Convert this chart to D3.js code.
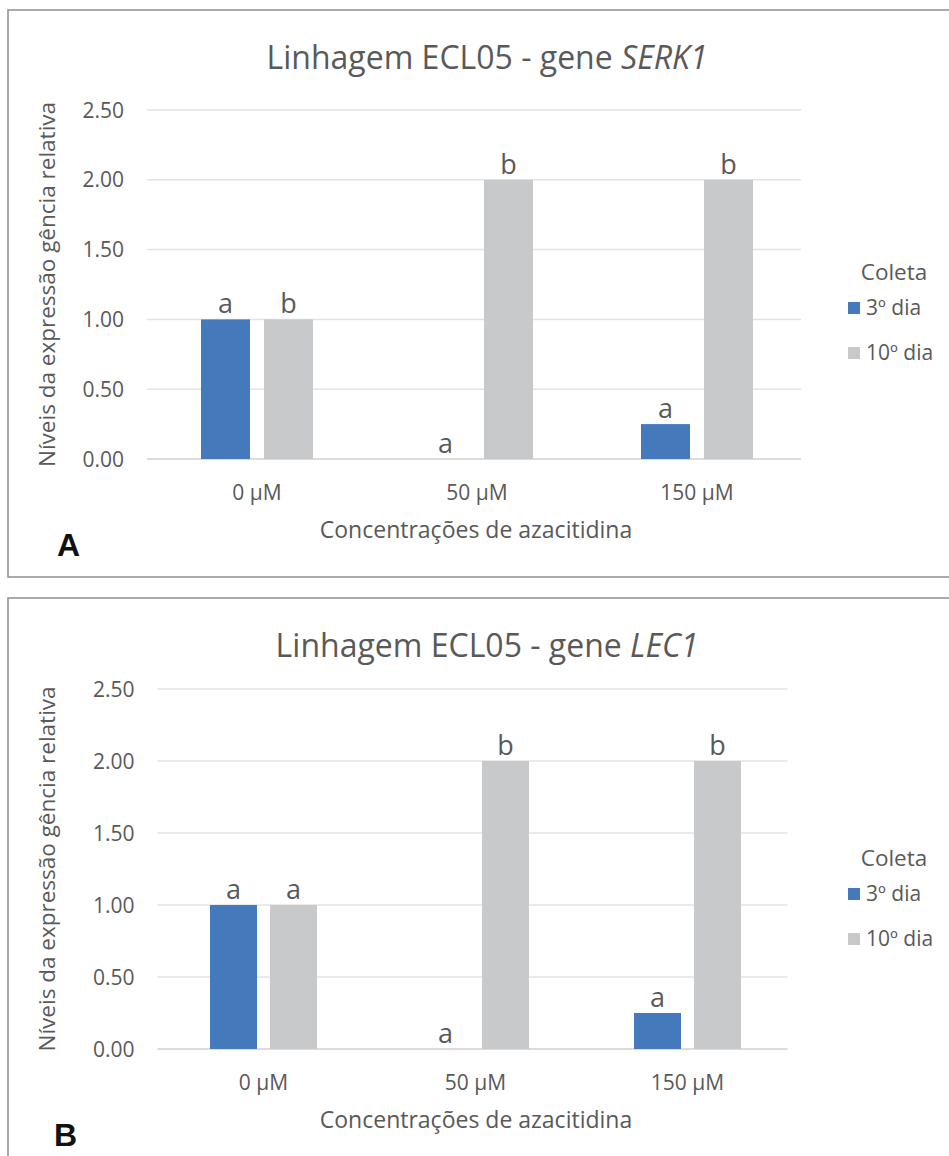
<!DOCTYPE html>
<html>
<head>
<meta charset="utf-8">
<script src="https://cdn.jsdelivr.net/npm/d3@7"></script>
<style>
body { margin: 0; background: #fff; }
svg text { font-family: "Open Sans", "Noto Sans", sans-serif; fill: #595959; }
</style>
</head>
<body>
<div id="chart"></div>
<script>
// categorias e séries
var concentracoes = ["0 μM", "50 μM", "150 μM"];
var coletas = ["3º dia", "10º dia"];
var cores = ["#4479bb", "#c8c9cb"];
var yTicks = [0, 0.5, 1, 1.5, 2, 2.5];

// painel A - SERK1
var serk1_dia3 = [1.00, 0.00, 0.25];
var serk1_dia10 = [1.00, 2.00, 2.00];
var serk1_letras3 = ["a", "a", "a"];
var serk1_letras10 = ["b", "b", "b"];

// painel B - LEC1
var lec1_dia3 = [1.00, 0.00, 0.25];
var lec1_dia10 = [1.00, 2.00, 2.00];
var lec1_letras3 = ["a", "a", "a"];
var lec1_letras10 = ["a", "b", "b"];

var svg = d3.select("#chart").append("svg")
    .attr("width", 949)
    .attr("height", 1156);

function drawPanel(p) {
  var g = svg.append("g");

  // moldura
  g.append("rect")
    .attr("x", 8).attr("y", p.top)
    .attr("width", 960).attr("height", p.frameH)
    .attr("fill", "none")
    .attr("stroke", "#8f8f8f")
    .attr("stroke-width", 1.5);

  var x0 = d3.scaleBand().domain(concentracoes).range([p.left, p.right]);
  var x1 = d3.scaleBand().domain(coletas).range([0, x0.bandwidth()])
      .paddingInner(p.pi).paddingOuter(p.po);
  var y = d3.scaleLinear().domain([0, 2.5]).range([p.bottom, p.ytop]);

  // grade
  g.append("g").selectAll("line").data(yTicks).enter().append("line")
    .attr("x1", p.left).attr("x2", p.right - 6)
    .attr("y1", function(d) { return y(d); })
    .attr("y2", function(d) { return y(d); })
    .attr("stroke", function(d) { return d == 0 ? "#d0d0d0" : "#e3e3e3"; })
    .attr("stroke-width", 1.5);

  // eixo y
  var ya = g.append("g")
    .attr("transform", "translate(" + (p.left - 23) + ",0)")
    .call(d3.axisLeft(y).tickValues(yTicks).tickFormat(d3.format(".2f")).tickSize(0).tickPadding(0));
  ya.select(".domain").remove();
  ya.selectAll("text").style("font-size", "21px").attr("dy", "0.34em").style("fill", "#595959");

  // eixo x
  var xa = g.append("g")
    .attr("transform", "translate(0," + p.bottom + ")")
    .call(d3.axisBottom(x0).tickSize(0));
  xa.select(".domain").remove();
  xa.selectAll("text").style("font-size", "21px").attr("dy", "0").attr("y", 41).style("fill", "#595959");

  // barras
  var rows = concentracoes.map(function(c, i) {
    return [
      {cat: c, serie: coletas[0], v: p.d3v[i], letra: p.l3[i], cor: cores[0]},
      {cat: c, serie: coletas[1], v: p.d10[i], letra: p.l10[i], cor: cores[1]}
    ];
  });
  var grp = g.append("g").selectAll("g").data(rows).enter().append("g")
    .attr("transform", function(d) { return "translate(" + x0(d[0].cat) + ",0)"; });

  grp.selectAll("rect").data(function(d) { return d; }).enter().append("rect")
    .attr("x", function(d) { return x1(d.serie); })
    .attr("width", x1.bandwidth())
    .attr("y", function(d) { return y(d.v); })
    .attr("height", function(d) { return y(0) - y(d.v); })
    .attr("fill", function(d) { return d.cor; });

  grp.selectAll("text").data(function(d) { return d; }).enter().append("text")
    .attr("x", function(d) { return x1(d.serie) + x1.bandwidth() / 2; })
    .attr("y", function(d) { return y(d.v) - 6; })
    .attr("text-anchor", "middle")
    .style("font-size", "27px")
    .text(function(d) { return d.letra; });

  // título
  var t = g.append("text")
    .attr("x", 487).attr("y", p.titleY)
    .attr("text-anchor", "middle")
    .style("font-size", "32px");
  t.append("tspan").text("Linhagem ECL05 - gene ");
  t.append("tspan").style("font-style", "italic").text(p.gene);

  // título eixo y
  g.append("text")
    .attr("transform", "translate(55," + ((p.ytop + p.bottom) / 2) + ") rotate(-90)")
    .attr("text-anchor", "middle")
    .style("font-size", "22.5px")
    .text("Níveis da expressão gência relativa");

  // título eixo x
  g.append("text")
    .attr("x", 476).attr("y", p.bottom + 79)
    .attr("text-anchor", "middle")
    .style("font-size", "23px")
    .text("Concentrações de azacitidina");

  // letra do painel
  g.append("text")
    .attr("x", p.letterX).attr("y", p.bottom + 97)
    .style("font-family", "'Liberation Sans', Arial, sans-serif")
    .style("font-weight", "bold")
    .style("font-size", "32px")
    .style("fill", "#111")
    .text(p.letra);

  // legenda
  var leg = g.append("g").attr("transform", "translate(848," + p.legY + ")");
  leg.append("text").attr("x", 46).attr("y", 0)
    .attr("text-anchor", "middle")
    .style("font-size", "22.5px")
    .text("Coleta");
  var it = leg.selectAll(".item").data(coletas).enter().append("g")
    .attr("transform", function(d, i) { return "translate(0," + (22 + i * 45) + ")"; });
  it.append("rect").attr("width", 12).attr("height", 12)
    .attr("fill", function(d, i) { return cores[i]; });
  it.append("text").attr("x", 18).attr("y", 13)
    .style("font-size", "21px")
    .text(function(d) { return d; });
}

drawPanel({top: 10, frameH: 567, ytop: 110, bottom: 459, left: 147, right: 807,
  pi: 14 / 63, po: 0.857, titleY: 69, gene: "SERK1", letra: "A", letterX: 57, legY: 280,
  d3v: serk1_dia3, d10: serk1_dia10, l3: serk1_letras3, l10: serk1_letras10});

drawPanel({top: 598, frameH: 600, ytop: 689, bottom: 1049, left: 157.5, right: 793.5,
  pi: 13 / 60, po: 0.875, titleY: 657, gene: "LEC1", letra: "B", letterX: 54, legY: 866,
  d3v: lec1_dia3, d10: lec1_dia10, l3: lec1_letras3, l10: lec1_letras10});
</script>
</body>
</html>
